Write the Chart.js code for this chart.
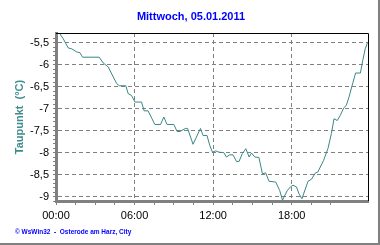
<!DOCTYPE html>
<html>
<head>
  <title>Taupunkt 05.01.2011</title>
  <script src="https://cdn.jsdelivr.net/npm/chart.js"></script>
  <style>
    html, body { margin: 0; padding: 0; background: #fff; }
  </style>
</head>
<body>
  <canvas id="taupunktChart" width="380" height="245"></canvas>

  <script>
    const times = [
      '00:00', '00:15', '00:33', '00:56', '01:12', '01:35', '01:50', '02:02', '03:18', '03:36',
      '03:59', '04:38', '04:50', '05:20', '05:31', '05:46', '06:02', '06:32', '06:44', '07:02',
      '07:33', '07:59', '08:14', '08:29', '09:00', '09:15', '09:28', '09:53', '10:03', '10:28',
      '11:02', '11:14', '11:32', '11:45', '11:57', '12:12', '12:27', '12:49', '13:01', '13:16',
      '13:31', '13:47', '13:59', '14:14', '14:30', '14:45', '14:56', '15:11', '15:30', '15:46',
      '16:01', '16:16', '16:47', '17:05', '17:18', '17:39', '17:54', '18:06', '18:22', '18:33',
      '18:47', '19:15', '19:30', '19:49', '20:00', '20:26', '20:46', '21:02', '21:14', '21:29',
      '21:43', '21:59', '22:10', '22:22', '22:41', '22:53', '23:15', '23:26', '23:37', '23:47'
    ];
    const dewPoint = [
      -5.28, -5.28, -5.41, -5.62, -5.64, -5.71, -5.73, -5.83, -5.83, -5.96,
      -6.05, -6.43, -6.48, -6.48, -6.66, -6.70, -6.85, -6.85, -7.05, -7.05,
      -7.36, -7.36, -7.19, -7.36, -7.36, -7.52, -7.52, -7.45, -7.45, -7.81,
      -7.45, -7.61, -7.61, -7.84, -7.99, -7.96, -7.99, -8.00, -8.10, -8.05,
      -8.05, -8.20, -8.20, -8.02, -7.91, -8.10, -8.01, -8.10, -8.11, -8.48,
      -8.46, -8.65, -8.67, -8.86, -9.08, -8.87, -8.78, -8.74, -8.78, -8.93,
      -9.05, -8.65, -8.61, -8.46, -8.44, -8.18, -7.91, -7.57, -7.23, -7.27,
      -7.15, -6.98, -6.93, -6.75, -6.40, -6.19, -6.19, -5.90, -5.64, -5.51
    ];
    const xTickLabels = ['00:00', '06:00', '12:00', '18:00'];
    const yTickValues = [-9, -8.5, -8, -7.5, -7, -6.5, -6, -5.5];

    const titleText = 'Mittwoch, 05.01.2011';
    const footerText = '\u00a9 WsWin32  -  Osterode am Harz, City';

    function toHours(t) {
      const parts = t.split(':');
      return parseInt(parts[0], 10) + parseInt(parts[1], 10) / 60;
    }

    const points = times.map((t, i) => ({ x: toHours(t), y: dewPoint[i] }));

    const isMultiple = (v, step) => Math.abs(v / step - Math.round(v / step)) < 1e-6;
    const gridGrey = '#808080';

    // Rahmen, Überschrift und Fußzeile
    const framePlugin = {
      id: 'frame',
      afterDraw(chart) {
        const ctx = chart.ctx;
        const a = chart.chartArea;
        ctx.save();
        ctx.strokeStyle = '#000';
        ctx.lineWidth = 1;
        ctx.beginPath();
        ctx.moveTo(a.left, a.top + 0.5);
        ctx.lineTo(a.right + 0.5, a.top + 0.5);
        ctx.lineTo(a.right + 0.5, a.bottom);
        ctx.stroke();

        ctx.fillStyle = gridGrey;
        ctx.fillRect(378, 0, 2, 245);
        ctx.fillRect(0, 243, 380, 2);

        ctx.fillStyle = '#0000ff';
        ctx.font = 'bold 11px "Liberation Sans", Arial, sans-serif';
        ctx.textAlign = 'center';
        ctx.textBaseline = 'middle';
        ctx.fillText(titleText, 191, 17);

        ctx.font = 'bold 6.5px "Liberation Sans", Arial, sans-serif';
        ctx.textAlign = 'left';
        ctx.fillText(footerText, 15, 232.5);
        ctx.restore();
      }
    };

    new Chart(document.getElementById('taupunktChart'), {
      type: 'line',
      data: {
        datasets: [{
          label: 'Taupunkt',
          data: points,
          borderColor: '#3a8686',
          borderWidth: 1,
          pointRadius: 0,
          tension: 0,
          fill: false
        }]
      },
      options: {
        responsive: false,
        animation: false,
        layout: { padding: { left: 0, right: 12, top: 33, bottom: 0 } },
        plugins: {
          legend: { display: false },
          tooltip: { enabled: false },
          title: { display: false }
        },
        scales: {
          x: {
            type: 'linear',
            min: 0,
            max: 23.83,
            afterFit(scale) { scale.height = 44; },
            border: { color: gridGrey, width: 3, dash: [4, 3] },
            grid: {
              color: c => (c.tick && c.tick.value > 0 && isMultiple(c.tick.value, 6)) ? gridGrey : 'rgba(0,0,0,0)',
              tickColor: c => (c.tick && isMultiple(c.tick.value, 1.5)) ? gridGrey : 'rgba(0,0,0,0)',
              lineWidth: 1,
              tickLength: 4
            },
            ticks: {
              stepSize: 1.5,
              autoSkip: false,
              maxRotation: 0,
              padding: 4,
              color: '#000',
              font: { family: '"Liberation Sans", Arial, sans-serif', size: 11 },
              callback: v => isMultiple(v, 6) ? (xTickLabels[Math.round(v / 6)] || '') : ''
            }
          },
          y: {
            min: -9.1,
            max: -5.28,
            afterFit(scale) { scale.width = 56; },
            border: { color: gridGrey, width: 3, dash: [4, 3] },
            grid: {
              color: c => (c.tick && yTickValues.some(v => Math.abs(v - c.tick.value) < 1e-6)) ? gridGrey : 'rgba(0,0,0,0)',
              tickColor: c => (c.tick && isMultiple(c.tick.value, 0.1)) ? gridGrey : 'rgba(0,0,0,0)',
              lineWidth: 1,
              tickLength: 3
            },
            ticks: {
              stepSize: 0.1,
              autoSkip: false,
              padding: 4,
              color: '#000',
              font: { family: '"Liberation Sans", Arial, sans-serif', size: 11 },
              callback: v => yTickValues.some(t => Math.abs(t - v) < 1e-6) ? String(v).replace('.', ',') : ''
            },
            title: {
              display: true,
              text: 'Taupunkt  (\u00b0C)',
              color: '#3f8c8c',
              padding: { top: 13, bottom: 0 },
              font: { family: '"Liberation Sans", Arial, sans-serif', size: 11, weight: 'bold' }
            }
          }
        }
      },
      plugins: [framePlugin]
    });
  </script>
</body>
</html>
